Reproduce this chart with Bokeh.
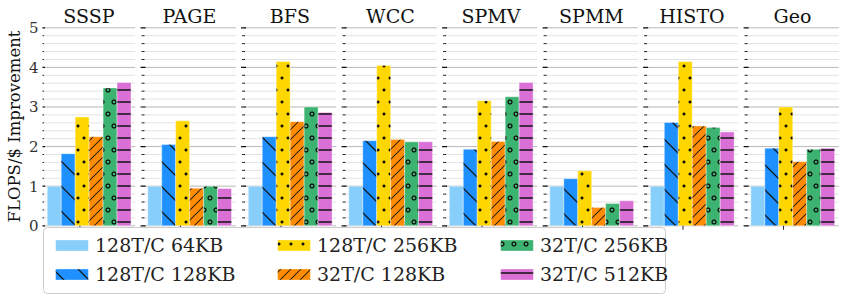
import base64
import struct
import zlib
import numpy as np
from bokeh.plotting import figure
from bokeh.models import (Range1d, FixedTicker, Legend, LegendItem, Title,
                          BoxAnnotation, ColumnDataSource, ImageURLTexture)
from bokeh.core.properties import value
from bokeh.embed import file_html
from bokeh.resources import INLINE

# ---------------- data ----------------
categories = ["SSSP", "PAGE", "BFS", "WCC", "SPMV", "SPMM", "HISTO", "Geo"]
series_labels = ["128T/C 64KB", "128T/C 128KB", "128T/C 256KB",
                 "32T/C 128KB", "32T/C 256KB", "32T/C 512KB"]
t128_64kb = [1.00, 1.00, 1.00, 1.00, 1.00, 1.00, 1.00, 1.00]
t128_128kb = [1.82, 2.05, 2.25, 2.15, 1.93, 1.19, 2.61, 1.96]
t128_256kb = [2.75, 2.65, 4.15, 4.05, 3.16, 1.39, 4.15, 3.00]
t32_128kb = [2.25, 0.95, 2.63, 2.18, 2.13, 0.46, 2.52, 1.62]
t32_256kb = [3.48, 1.00, 3.00, 2.12, 3.26, 0.56, 2.48, 1.93]
t32_512kb = [3.62, 0.94, 2.86, 2.12, 3.62, 0.63, 2.37, 1.96]
y_ticks = [0, 1, 2, 3, 4, 5]
y_label = "FLOPS/$ Improvement"

series_values = [t128_64kb, t128_128kb, t128_256kb, t32_128kb, t32_256kb, t32_512kb]

# ---------------- style ----------------
colors = ["#87CEFA", "#1E90FF", "#FFD700", "#FF8C00", "#3CB371", "#DA70D6"]
FONT = "DejaVu Serif"


# ---- hatch tiles rendered as small PNG textures ----
def _png_url(alpha):
    h, w = alpha.shape
    rows = []
    for y in range(h):
        row = bytearray([0])
        for x in range(w):
            row += bytes([17, 17, 17, int(round(255 * min(1.0, alpha[y, x])))])
        rows.append(bytes(row))
    raw = b"".join(rows)

    def chunk(t, d):
        return (struct.pack(">I", len(d)) + t + d +
                struct.pack(">I", zlib.crc32(t + d) & 0xFFFFFFFF))
    png = (b"\x89PNG\r\n\x1a\n" +
           chunk(b"IHDR", struct.pack(">IIBBBBB", w, h, 8, 6, 0, 0, 0)) +
           chunk(b"IDAT", zlib.compress(raw, 9)) + chunk(b"IEND", b""))
    return "data:image/png;base64," + base64.b64encode(png).decode()


def _tile(size, inside, ss=4):
    a = np.zeros((size, size))
    sub = (np.arange(ss) + 0.5) / ss
    for py in range(size):
        for px in range(size):
            c = 0
            for sy in sub:
                for sx in sub:
                    if inside(px + sx, py + sy):
                        c += 1
            a[py, px] = c / (ss * ss)
    return a


def _periodic_dist(x, y, pts, s):
    best = 1e9
    for (cx, cy) in pts:
        dx = (x - cx + s / 2) % s - s / 2
        dy = (y - cy + s / 2) % s - s / 2
        best = min(best, (dx * dx + dy * dy) ** 0.5)
    return best


def bdiag_in(x, y, s=25, w=1.3):
    t = (y - x) % s
    return min(t, s - t) / 2 ** 0.5 < w / 2


def fdiag_in(x, y, s=10, w=1.0):
    t = (x + y) % s
    return min(t, s - t) / 2 ** 0.5 < w / 2


def hline_in(x, y, s=12, w=1.4):
    return abs(y - s / 2) < w / 2


STAG = [(6, 6), (18, 6), (0, 18), (12, 18)]


def dot_in(x, y, s=24, r=1.5):
    return _periodic_dist(x, y, STAG, s) < r


def ring_in(x, y, s=24, R=1.9, w=1.3):
    return abs(_periodic_dist(x, y, STAG, s) - R) < w / 2


hatch_tex = {
    "bdiag": ImageURLTexture(url=_png_url(_tile(25, bdiag_in))),
    "dots": ImageURLTexture(url=_png_url(_tile(24, dot_in))),
    "fdiag": ImageURLTexture(url=_png_url(_tile(10, fdiag_in))),
    "rings": ImageURLTexture(url=_png_url(_tile(24, ring_in))),
    "hlines": ImageURLTexture(url=_png_url(_tile(12, hline_in))),
}
hatch_names = [None, "bdiag", "dots", "fdiag", "rings", "hlines"]

PITCH = 7.2    # panel pitch (in bar widths)
OFF = 0.84     # first bar centre from panel left
PW = 6.64      # panel width
TICK_POS = 2.68

p = figure(width=842, height=302,
           x_range=Range1d(0, 57.16), y_range=Range1d(-1.937, 5.689),
           output_backend="svg", toolbar_location=None,
           min_border_left=42, min_border_right=2,
           min_border_top=0, min_border_bottom=0)
p.xaxis.visible = False
p.xgrid.visible = False
p.ygrid.visible = False
p.outline_line_color = None
p.background_fill_color = "white"

ya = p.yaxis[0]
ya.ticker = FixedTicker(ticks=y_ticks)
ya.axis_line_color = None
ya.major_tick_line_color = None
ya.minor_tick_line_color = None
ya.major_tick_out = 0
ya.major_tick_in = 0
ya.major_label_standoff = 4
ya.major_label_text_font = FONT
ya.major_label_text_font_size = "15px"
ya.major_label_text_color = "#333333"

p.add_layout(Title(text=y_label, align="right", offset=30, standoff=3,
                   text_font=FONT, text_font_size="16.5px",
                   text_font_style="normal", text_color="#111111"), "left")

n_cat = len(categories)
panel_left = np.arange(n_cat) * PITCH

# grid lines per panel
minor_levels = [v for v in np.round(np.arange(0, max(y_ticks) + 0.001, 0.2), 2)
                if abs(v - round(v)) > 1e-6]
gx0, gx1, gy = [], [], []
for pl in panel_left:
    for v in minor_levels:
        gx0.append(pl); gx1.append(pl + PW); gy.append(v)
p.segment(x0=gx0, x1=gx1, y0=gy, y1=gy, line_color="#e3e3e3", line_width=1)
mx0, mx1, my = [], [], []
for pl in panel_left:
    for v in y_ticks:
        mx0.append(pl); mx1.append(pl + PW); my.append(v)
p.segment(x0=mx0, x1=mx1, y0=my, y1=my, line_color="#b8b8b8", line_width=1)

# tick dashes at each panel's left edge
dx_min = [pl for pl in panel_left for _ in minor_levels]
dy_min = [v for _ in panel_left for v in minor_levels]
p.scatter(x=dx_min, y=dy_min, marker="dash", size=3, line_color="#222222", line_width=1)
dx_maj = [pl for pl in panel_left for _ in y_ticks]
dy_maj = [v for _ in panel_left for v in y_ticks]
p.scatter(x=dx_maj, y=dy_maj, marker="dash", size=5, line_color="#111111", line_width=1.2)

# bars
renderers = []
for j, vals in enumerate(series_values):
    src = ColumnDataSource(dict(x=panel_left + OFF + j, top=vals))
    kw = dict(fill_color=colors[j], line_color="white", line_width=0.8, line_alpha=0.5)
    if hatch_names[j] is not None:
        kw.update(hatch_pattern=value(hatch_names[j]), hatch_extra=hatch_tex,
                  hatch_alpha=1.0)
    r = p.vbar(x="x", top="top", bottom=0, width=1.0, source=src, **kw)
    renderers.append(r)

# x ticks below each panel
tx = panel_left + TICK_POS
p.segment(x0=tx, x1=tx, y0=[0] * n_cat, y1=[-0.1] * n_cat, line_color="#222222", line_width=1)

# panel titles
p.text(x=panel_left + PW / 2, y=[5.31] * n_cat, text=categories,
       text_font=value(FONT), text_font_size="19px", text_align="center",
       text_baseline="middle", text_color="#111111")

# legend box
p.add_layout(BoxAnnotation(left=1, right=623, bottom=9, top=75,
                           left_units="screen", right_units="screen",
                           top_units="screen", bottom_units="screen",
                           fill_color="white", fill_alpha=1.0,
                           line_color="#cccccc", line_width=1, line_alpha=1.0,
                           border_radius=4))

col_x = [9, 231, 454]
for c in range(3):
    items = [LegendItem(label=series_labels[2 * c], renderers=[renderers[2 * c]]),
             LegendItem(label=series_labels[2 * c + 1], renderers=[renderers[2 * c + 1]])]
    leg = Legend(items=items, location=(col_x[c], 17), orientation="vertical",
                 glyph_width=41, glyph_height=14, label_standoff=3,
                 label_height=20, spacing=7, padding=0, margin=0,
                 border_line_alpha=0, background_fill_alpha=0,
                 label_text_font=FONT, label_text_font_size="19px",
                 label_text_color="#222222")
    p.add_layout(leg)

open("out.html", "w").write(file_html(p, INLINE))
